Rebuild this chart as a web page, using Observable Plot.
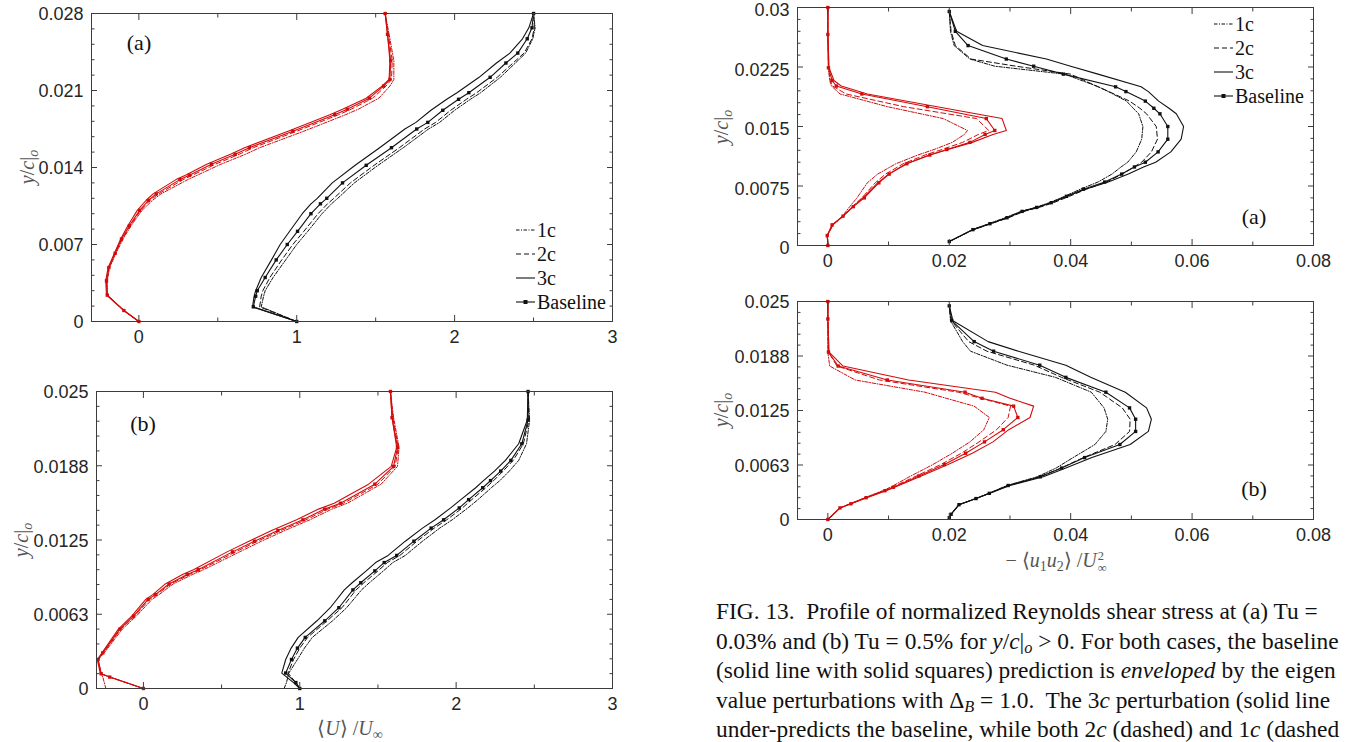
<!DOCTYPE html>
<html><head><meta charset="utf-8">
<script src="https://cdn.jsdelivr.net/npm/d3@7"></script>
<script src="https://cdn.jsdelivr.net/npm/@observablehq/plot@0.6"></script>
<style>
body{margin:0;background:#fff;}
#fig{position:relative;width:1358px;height:742px;overflow:hidden;background:#fff;}
.pp{position:absolute;}
.t{position:absolute;font-family:"Liberation Serif","Times New Roman",serif;white-space:nowrap;color:#111;}
.ylab{color:#555;font-size:20px;transform:translate(-50%,-50%) rotate(-90deg);}
.xlab{color:#555;font-size:20px;transform:translate(-50%,-50%);}
.pan{font-size:22px;transform:translate(-50%,-50%);}
.leg{font-size:20px;line-height:24px;}
.leg div{height:24px;display:flex;align-items:center;}
.leg svg{margin-right:2px;}
.cap{font-size:23.4px;line-height:29.5px;color:#111;}
.cap div{height:29.5px;}
.ss{display:inline-flex;flex-direction:column;vertical-align:middle;font-size:0.62em;line-height:1;margin-left:1px;}
sub{font-size:0.7em;vertical-align:baseline;position:relative;top:0.3em;line-height:0;}
</style></head><body><div id="fig"></div>
<script>
// ---------- Left (a): <U>/Uinf, Tu = 0.03% ----------
const uaRedY   = [0, 0.001, 0.0024, 0.0037, 0.0049, 0.0062, 0.0075, 0.0087, 0.0101, 0.011, 0.0116, 0.0129, 0.0133, 0.0143, 0.0152, 0.0158, 0.0173, 0.0188, 0.0193, 0.0203, 0.0214, 0.022, 0.0237, 0.0261, 0.028];
const uaRedBase= [0, -0.095, -0.2, -0.205, -0.19, -0.15, -0.11, -0.06, 0.005, 0.06, 0.11, 0.26, 0.32, 0.46, 0.61, 0.70, 0.975, 1.24, 1.32, 1.46, 1.55, 1.59, 1.595, 1.575, 1.56];
const uaRed3c  = [0, -0.095, -0.205, -0.21, -0.195, -0.155, -0.115, -0.07, -0.01, 0.045, 0.09, 0.235, 0.295, 0.43, 0.58, 0.67, 0.945, 1.21, 1.29, 1.44, 1.54, 1.585, 1.59, 1.575, 1.56];
const uaRed2c  = [0, -0.095, -0.2, -0.205, -0.19, -0.15, -0.105, -0.055, 0.01, 0.07, 0.125, 0.28, 0.34, 0.485, 0.635, 0.725, 1.0, 1.265, 1.345, 1.48, 1.565, 1.6, 1.605, 1.58, 1.56];
const uaRed1c  = [0, -0.095, -0.2, -0.2, -0.185, -0.145, -0.1, -0.05, 0.02, 0.085, 0.14, 0.31, 0.37, 0.52, 0.675, 0.765, 1.045, 1.31, 1.39, 1.52, 1.59, 1.615, 1.615, 1.585, 1.56];
const uaBlkY   = [0, 0.00133, 0.0023, 0.0028, 0.004, 0.0056, 0.007, 0.0082, 0.0098, 0.0107, 0.0112, 0.0126, 0.0142, 0.0158, 0.0175, 0.0181, 0.0192, 0.0202, 0.0208, 0.0222, 0.0235, 0.0244, 0.0257, 0.0267, 0.028];
const uaBlkBase= [1, 0.725, 0.74, 0.75, 0.8, 0.87, 0.94, 1.005, 1.09, 1.15, 1.19, 1.29, 1.44, 1.6, 1.76, 1.83, 1.925, 2.025, 2.09, 2.225, 2.325, 2.4, 2.46, 2.49, 2.5];
const uaBlk3c  = [1, 0.72, 0.73, 0.74, 0.775, 0.84, 0.895, 0.955, 1.035, 1.09, 1.13, 1.225, 1.37, 1.525, 1.685, 1.755, 1.85, 1.95, 2.015, 2.155, 2.265, 2.35, 2.43, 2.47, 2.5];
const uaBlk2c  = [1, 0.765, 0.775, 0.785, 0.83, 0.905, 0.975, 1.045, 1.135, 1.195, 1.235, 1.34, 1.49, 1.65, 1.81, 1.88, 1.975, 2.075, 2.14, 2.27, 2.37, 2.44, 2.49, 2.505, 2.5];
const uaBlk1c  = [1, 0.775, 0.79, 0.8, 0.85, 0.93, 1.0, 1.07, 1.16, 1.22, 1.26, 1.365, 1.515, 1.675, 1.835, 1.905, 2.0, 2.1, 2.165, 2.29, 2.385, 2.45, 2.495, 2.51, 2.5];

// ---------- Left (b): <U>/Uinf, Tu = 0.5% ----------
const ubRedY   = [0, 0.00096, 0.00124, 0.00244, 0.003, 0.005, 0.0061, 0.0075, 0.0079, 0.0088, 0.0096, 0.01, 0.0115, 0.0124, 0.0133, 0.0142, 0.0151, 0.0156, 0.0172, 0.0187, 0.0203, 0.0228, 0.025];
const ubRedBase= [0, -0.215, -0.27, -0.29, -0.26, -0.15, -0.063, 0.03, 0.076, 0.164, 0.28, 0.35, 0.57, 0.71, 0.86, 1.02, 1.16, 1.26, 1.48, 1.6, 1.625, 1.59, 1.58];
const ubRed3c  = [0, -0.215, -0.275, -0.295, -0.265, -0.16, -0.075, 0.015, 0.06, 0.14, 0.25, 0.32, 0.535, 0.675, 0.82, 0.98, 1.12, 1.22, 1.44, 1.585, 1.62, 1.59, 1.58];
const ubRed2c  = [0, -0.215, -0.27, -0.29, -0.255, -0.145, -0.055, 0.04, 0.085, 0.175, 0.295, 0.365, 0.59, 0.73, 0.88, 1.04, 1.18, 1.28, 1.5, 1.61, 1.63, 1.595, 1.58];
const ubRed1c  = [-0.24, -0.26, -0.27, -0.29, -0.25, -0.135, -0.045, 0.055, 0.1, 0.19, 0.315, 0.385, 0.615, 0.755, 0.905, 1.065, 1.205, 1.305, 1.52, 1.625, 1.635, 1.6, 1.58];
const ubBlkY   = [0, 0.0005, 0.0013, 0.00244, 0.0034, 0.0043, 0.0057, 0.0068, 0.0083, 0.0089, 0.0099, 0.0106, 0.0112, 0.0124, 0.0135, 0.0142, 0.0152, 0.0159, 0.0169, 0.0175, 0.0183, 0.0192, 0.0206, 0.0226, 0.025];
const ubBlkBase= [1, 0.975, 0.91, 0.947, 0.985, 1.035, 1.16, 1.25, 1.34, 1.39, 1.48, 1.54, 1.62, 1.73, 1.84, 1.92, 2.02, 2.08, 2.17, 2.22, 2.285, 2.35, 2.42, 2.46, 2.46];
const ubBlk3c  = [1, 0.96, 0.885, 0.91, 0.945, 0.99, 1.11, 1.195, 1.285, 1.335, 1.425, 1.485, 1.565, 1.675, 1.785, 1.865, 1.965, 2.03, 2.125, 2.175, 2.245, 2.315, 2.4, 2.455, 2.46];
const ubBlk2c  = [1, 0.975, 0.925, 0.96, 1.0, 1.05, 1.175, 1.27, 1.36, 1.41, 1.5, 1.56, 1.64, 1.75, 1.86, 1.94, 2.04, 2.1, 2.19, 2.24, 2.3, 2.365, 2.43, 2.465, 2.46];
const ubBlk1c  = [0.9, 0.915, 0.93, 0.985, 1.03, 1.08, 1.21, 1.3, 1.395, 1.445, 1.535, 1.595, 1.675, 1.785, 1.895, 1.975, 2.075, 2.14, 2.225, 2.28, 2.34, 2.4, 2.45, 2.47, 2.46];

// ---------- Right (a): -<u1u2>/Uinf^2, Tu = 0.03% ----------
const saRedY   = [0, 0.00125, 0.0026, 0.0037, 0.0049, 0.006, 0.0079, 0.009, 0.0103, 0.0114, 0.0121, 0.013, 0.014, 0.0145, 0.016, 0.0175, 0.0191, 0.0201, 0.0208, 0.0224, 0.0266, 0.03];
const saRedBase= [0, -0.0001, 0.0007, 0.0025, 0.0042, 0.006, 0.0084, 0.0101, 0.013, 0.0168, 0.0196, 0.0234, 0.0259, 0.0275, 0.0261, 0.0164, 0.0056, 0.0014, 0.0007, 0.0001, 0, 0];
const saRed3c  = [0, -0.0001, 0.0007, 0.0025, 0.0041, 0.0058, 0.0082, 0.01, 0.0129, 0.0168, 0.0198, 0.0238, 0.0272, 0.0294, 0.0287, 0.018, 0.0065, 0.0022, 0.001, 0.0002, 0, 0];
const saRed2c  = [0, -0.0001, 0.0008, 0.0026, 0.004, 0.0056, 0.0078, 0.0095, 0.0124, 0.016, 0.0188, 0.0222, 0.0248, 0.0265, 0.0245, 0.0125, 0.003, 0.0008, 0.0004, 0.0001, 0, 0];
const saRed1c  = [0, -0.0001, 0.0009, 0.0024, 0.0036, 0.0048, 0.0065, 0.0082, 0.0112, 0.0148, 0.0175, 0.0205, 0.0225, 0.023, 0.019, 0.0098, 0.002, 0.0006, 0.0003, 0.0001, 0, 0];
const saBlkY   = [0.0005, 0.002, 0.00275, 0.0035, 0.0043, 0.0048, 0.0054, 0.0062, 0.0071, 0.008, 0.009, 0.0099, 0.0105, 0.0118, 0.0134, 0.015, 0.0166, 0.0173, 0.0182, 0.0194, 0.02, 0.0216, 0.0226, 0.0235, 0.0252, 0.027, 0.0295];
const saBlkBase= [0.02, 0.0239, 0.0267, 0.0295, 0.032, 0.0344, 0.0368, 0.0393, 0.0421, 0.0456, 0.0484, 0.0505, 0.0523, 0.0544, 0.056, 0.056, 0.0547, 0.0537, 0.0523, 0.0491, 0.0474, 0.0388, 0.0339, 0.0294, 0.0231, 0.021, 0.02];
const saBlk3c  = [0.02, 0.0239, 0.0267, 0.0295, 0.032, 0.0344, 0.0368, 0.0394, 0.0424, 0.0462, 0.0495, 0.052, 0.054, 0.0565, 0.0582, 0.0586, 0.0574, 0.0562, 0.0545, 0.0528, 0.0516, 0.0445, 0.04, 0.036, 0.0255, 0.0212, 0.02];
const saBlk2c  = [0.02, 0.024, 0.0269, 0.0298, 0.0323, 0.0348, 0.0372, 0.0398, 0.0426, 0.0459, 0.0485, 0.0504, 0.0517, 0.0533, 0.0543, 0.0541, 0.0525, 0.0514, 0.0497, 0.0463, 0.0445, 0.04, 0.031, 0.0236, 0.021, 0.0203, 0.02];
const saBlk1c  = [0.02, 0.0238, 0.0265, 0.0292, 0.0318, 0.0342, 0.0365, 0.039, 0.0416, 0.0445, 0.0468, 0.0483, 0.0494, 0.0508, 0.0517, 0.0519, 0.0512, 0.0503, 0.0492, 0.0462, 0.0446, 0.039, 0.0275, 0.0234, 0.0208, 0.0202, 0.02];

// ---------- Right (b): -<u1u2>/Uinf^2, Tu = 0.5% ----------
const sbRedY   = [0, 0.00133, 0.0018, 0.0025, 0.0033, 0.0037, 0.005, 0.0063, 0.0076, 0.0089, 0.0103, 0.0117, 0.013, 0.0139, 0.0146, 0.016, 0.0176, 0.0192, 0.023, 0.025];
const sbRedBase= [0, 0.002, 0.0038, 0.0063, 0.0094, 0.0108, 0.015, 0.0192, 0.0227, 0.0258, 0.0289, 0.0313, 0.0306, 0.0254, 0.0226, 0.0098, 0.0017, 0.0001, 0, 0];
const sbRed3c  = [0, 0.002, 0.0038, 0.0064, 0.0096, 0.011, 0.0154, 0.0198, 0.0238, 0.0272, 0.0298, 0.0333, 0.0339, 0.03, 0.0276, 0.0133, 0.0025, 0.0002, 0, 0];
const sbRed2c  = [0, 0.002, 0.0037, 0.0062, 0.0092, 0.0106, 0.0146, 0.0186, 0.022, 0.0249, 0.0278, 0.0297, 0.0301, 0.0252, 0.0215, 0.0085, 0.0015, 0.0001, 0, 0];
const sbRed1c  = [0, 0.002, 0.0036, 0.0061, 0.009, 0.0103, 0.0137, 0.0173, 0.0205, 0.0234, 0.0257, 0.0266, 0.0241, 0.0195, 0.016, 0.0045, 0.0003, 0, 0, 0];
const sbBlkY   = [0.0002, 0.0006, 0.0017, 0.0024, 0.003, 0.0039, 0.0049, 0.0059, 0.0071, 0.0086, 0.0101, 0.0115, 0.0128, 0.0146, 0.0163, 0.0177, 0.0193, 0.0204, 0.0228, 0.0245];
const sbBlkBase= [0.02, 0.0203, 0.0216, 0.0244, 0.0266, 0.0297, 0.035, 0.0385, 0.0423, 0.0481, 0.0507, 0.0507, 0.0497, 0.0458, 0.0392, 0.0349, 0.0273, 0.0241, 0.0204, 0.02];
const sbBlk3c  = [0.02, 0.0203, 0.0216, 0.0244, 0.0267, 0.03, 0.0355, 0.0392, 0.0435, 0.0498, 0.0528, 0.0533, 0.0525, 0.049, 0.0433, 0.0392, 0.0314, 0.0264, 0.0206, 0.02];
const sbBlk2c  = [0.02, 0.0203, 0.0216, 0.0244, 0.0266, 0.0297, 0.0349, 0.0384, 0.0421, 0.0473, 0.0497, 0.0498, 0.0485, 0.0448, 0.0385, 0.034, 0.0262, 0.0232, 0.0203, 0.02];
const sbBlk1c  = [0.02, 0.0203, 0.0216, 0.0244, 0.0265, 0.0295, 0.0345, 0.0376, 0.0404, 0.044, 0.0458, 0.0461, 0.0455, 0.0434, 0.0375, 0.0295, 0.0235, 0.0222, 0.0202, 0.02];

// ---------- ticks ----------
const uXTicks = [0, 1, 2, 3];
const uXTickLabels = ["0", "1", "2", "3"];
const uXMinor = [0.5, 1.5, 2.5];
const uaYTicks = [0, 0.007, 0.014, 0.021, 0.028];
const uaYTickLabels = ["0", "0.007", "0.014", "0.021", "0.028"];
const uaYMinor = [0.0014, 0.0028, 0.0042, 0.0056, 0.0084, 0.0098, 0.0112, 0.0126, 0.0154, 0.0168, 0.0182, 0.0196, 0.0224, 0.0238, 0.0252, 0.0266];
const q25YTicks = [0, 0.00625, 0.0125, 0.01875, 0.025];
const q25YTickLabels = ["0", "0.0063", "0.0125", "0.0188", "0.025"];
const q25YMinor = [0.00125, 0.0025, 0.00375, 0.005, 0.0075, 0.00875, 0.01, 0.01125, 0.01375, 0.015, 0.01625, 0.0175, 0.02, 0.02125, 0.0225, 0.02375];
const sXTicks = [0, 0.02, 0.04, 0.06, 0.08];
const sXTickLabels = ["0", "0.02", "0.04", "0.06", "0.08"];
const sXMinor = [0.01, 0.03, 0.05, 0.07];
const saYTicks = [0, 0.0075, 0.015, 0.0225, 0.03];
const saYTickLabels = ["0", "0.0075", "0.015", "0.0225", "0.03"];
const saYMinor = [0.0015, 0.003, 0.0045, 0.006, 0.009, 0.0105, 0.012, 0.0135, 0.0165, 0.018, 0.0195, 0.021, 0.024, 0.0255, 0.027, 0.0285];

const RED = "#d20b0b", BLK = "#111111", AX = "#3c3c3c";
const DASH1 = "3.5,1.5,1,1.5", DASH2 = "5,3";
const MAJ = 6, MIN = 3.5;

function panel(cfg) {
  const xl = new Map(cfg.xTicks.map((t, i) => [t, cfg.xTickLabels[i]]));
  const yl = new Map(cfg.yTicks.map((t, i) => [t, cfg.yTickLabels[i]]));
  const marks = [];
  for (const g of cfg.groups) {
    const pts = xs => xs.map((x, i) => ({x, y: g.y[i]}));
    marks.push(
      Plot.line(pts(g.c1), {x: "x", y: "y", stroke: g.color, strokeWidth: 1, strokeDasharray: DASH1}),
      Plot.line(pts(g.c2), {x: "x", y: "y", stroke: g.color, strokeWidth: 1, strokeDasharray: DASH2}),
      Plot.line(pts(g.c3), {x: "x", y: "y", stroke: g.color, strokeWidth: 1.1}),
      Plot.line(pts(g.base), {x: "x", y: "y", stroke: g.color, strokeWidth: 1.1}),
      Plot.dot(pts(g.base), {x: "x", y: "y", symbol: "square", r: 1.9, fill: g.color})
    );
  }
  const blank = () => "";
  const tk = (fn, ticks, anchor, size) => {
    const o = {anchor, tickSize: size, tickFormat: blank, label: null, stroke: AX};
    if (anchor === "bottom") o.dy = -size;
    if (anchor === "top") o.dy = size;
    if (anchor === "left") o.dx = size;
    if (anchor === "right") o.dx = -size;
    return fn(ticks, o);
  };
  marks.push(
    Plot.frame({stroke: AX, strokeWidth: 1}),
    Plot.axisX(cfg.xTicks, {anchor: "bottom", tickSize: 0, tickPadding: 9, tickFormat: d => xl.get(d), label: null}),
    Plot.axisY(cfg.yTicks, {anchor: "left", tickSize: 0, tickPadding: 8, dy: cfg.yLabelDy ?? 1, tickFormat: d => yl.get(d), label: null}),
    tk(Plot.axisX, cfg.xTicks, "bottom", MAJ),
    tk(Plot.axisX, cfg.xTicks, "top", MAJ),
    tk(Plot.axisX, cfg.xMinor, "bottom", MIN),
    tk(Plot.axisX, cfg.xMinor, "top", MIN),
    tk(Plot.axisY, cfg.yTicks, "left", MAJ),
    tk(Plot.axisY, cfg.yTicks, "right", MAJ),
    tk(Plot.axisY, cfg.yMinor, "left", MIN),
    tk(Plot.axisY, cfg.yMinor, "right", MIN)
  );
  const svg = Plot.plot({
    width: cfg.width, height: cfg.height,
    marginLeft: cfg.ml, marginRight: cfg.mr, marginTop: cfg.mt, marginBottom: cfg.mb,
    x: {domain: cfg.xDomain, label: null},
    y: {domain: cfg.yDomain, label: null},
    style: {fontFamily: "'Liberation Sans', Arial, sans-serif", fontSize: "18px", color: "#262626", background: "transparent", overflow: "visible"},
    marks
  });
  const wrap = document.createElement("div");
  wrap.className = "pp";
  wrap.style.left = cfg.left + "px";
  wrap.style.top = cfg.top + "px";
  wrap.style.width = cfg.width + "px";
  wrap.style.height = cfg.height + "px";
  wrap.appendChild(svg);
  document.getElementById("fig").appendChild(wrap);
}

panel({left: 0, top: 0, width: 640, height: 360, ml: 91, mr: 28, mt: 13, mb: 39,
  xDomain: [-0.3, 3], yDomain: [0, 0.028],
  xTicks: uXTicks, xTickLabels: uXTickLabels, xMinor: uXMinor,
  yTicks: uaYTicks, yTickLabels: uaYTickLabels, yMinor: uaYMinor,
  groups: [
    {color: BLK, y: uaBlkY, base: uaBlkBase, c3: uaBlk3c, c2: uaBlk2c, c1: uaBlk1c},
    {color: RED, y: uaRedY, base: uaRedBase, c3: uaRed3c, c2: uaRed2c, c1: uaRed1c}
  ]});
panel({left: 0, top: 378, width: 640, height: 364, ml: 96, mr: 28, mt: 13, mb: 54,
  xDomain: [-0.3, 3], yDomain: [0, 0.025],
  xTicks: uXTicks, xTickLabels: uXTickLabels, xMinor: uXMinor,
  yTicks: q25YTicks, yTickLabels: q25YTickLabels, yMinor: q25YMinor,
  groups: [
    {color: BLK, y: ubBlkY, base: ubBlkBase, c3: ubBlk3c, c2: ubBlk2c, c1: ubBlk1c},
    {color: RED, y: ubRedY, base: ubRedBase, c3: ubRed3c, c2: ubRed2c, c1: ubRed1c}
  ]});
panel({left: 700, top: 1, width: 658, height: 284, ml: 97, mr: 45, mt: 6, mb: 40, yLabelDy: 3,
  xDomain: [-0.005, 0.08], yDomain: [0, 0.03],
  xTicks: sXTicks, xTickLabels: sXTickLabels, xMinor: sXMinor,
  yTicks: saYTicks, yTickLabels: saYTickLabels, yMinor: saYMinor,
  groups: [
    {color: BLK, y: saBlkY, base: saBlkBase, c3: saBlk3c, c2: saBlk2c, c1: saBlk1c},
    {color: RED, y: saRedY, base: saRedBase, c3: saRed3c, c2: saRed2c, c1: saRed1c}
  ]});
panel({left: 700, top: 285, width: 658, height: 290, ml: 97, mr: 45, mt: 16, mb: 56,
  xDomain: [-0.005, 0.08], yDomain: [0, 0.025],
  xTicks: sXTicks, xTickLabels: sXTickLabels, xMinor: sXMinor,
  yTicks: q25YTicks, yTickLabels: q25YTickLabels, yMinor: q25YMinor,
  groups: [
    {color: BLK, y: sbBlkY, base: sbBlkBase, c3: sbBlk3c, c2: sbBlk2c, c1: sbBlk1c},
    {color: RED, y: sbRedY, base: sbRedBase, c3: sbRed3c, c2: sbRed2c, c1: sbRed1c}
  ]});

// ---------- text overlays ----------
const fig = document.getElementById("fig");
function addText(cls, x, y, html) {
  const d = document.createElement("div");
  d.className = "t " + cls;
  d.style.left = x + "px"; d.style.top = y + "px";
  d.innerHTML = html;
  fig.appendChild(d);
}
const yLab = "<i>y</i>/<i>c</i>|<sub><i>o</i></sub>";
addText("ylab", 27, 167, yLab);
addText("ylab", 21, 540, yLab);
addText("ylab", 721, 127, yLab);
addText("ylab", 721, 410, yLab);
addText("xlab", 350, 728, "⟨<i>U</i>⟩ /<i>U</i><sub>∞</sub>");
addText("xlab", 1056, 561, "− ⟨<i>u</i><sub>1</sub><i>u</i><sub>2</sub>⟩ /<i>U</i><span class='ss'><span>2</span><span>∞</span></span>");
addText("pan", 139, 43, "(a)");
addText("pan", 143, 424, "(b)");
addText("pan", 1254, 217, "(a)");
addText("pan", 1254, 489, "(b)");

const legendNames = ["1c", "2c", "3c", "Baseline"];
const legendDash = [DASH1, DASH2, null, null];
function legend(x, y) {
  const d = document.createElement("div");
  d.className = "t leg";
  d.style.left = x + "px"; d.style.top = y + "px";
  d.innerHTML = legendNames.map((n, i) =>
    `<div><svg width="19" height="10"><line x1="0" x2="19" y1="5" y2="5" stroke="#111" stroke-width="1.1" ${legendDash[i] ? `stroke-dasharray="${legendDash[i]}"` : ""}/>${i === 3 ? '<rect x="7.5" y="3" width="4" height="4" fill="#111"/>' : ""}</svg><span>${n}</span></div>`
  ).join("");
  fig.appendChild(d);
}
legend(516, 218);
legend(1214, 12);

const captionLines = [
  "FIG. 13.&nbsp; Profile of normalized Reynolds shear stress at (a) Tu =",
  "0.03% and (b) Tu = 0.5% for <i>y</i>/<i>c</i>|<sub><i>o</i></sub> &gt; 0. For both cases, the baseline",
  "(solid line with solid squares) prediction is <i>enveloped</i> by the eigen",
  "value perturbations with Δ<sub><i>B</i></sub> = 1.0.&nbsp; The 3<i>c</i> perturbation (solid line",
  "under-predicts the baseline, while both 2<i>c</i> (dashed) and 1<i>c</i> (dashed"
];
const cap = document.createElement("div");
cap.className = "t cap";
cap.style.left = "716px"; cap.style.top = "597px";
cap.innerHTML = captionLines.map(l => `<div>${l}</div>`).join("");
fig.appendChild(cap);
</script></body></html>
